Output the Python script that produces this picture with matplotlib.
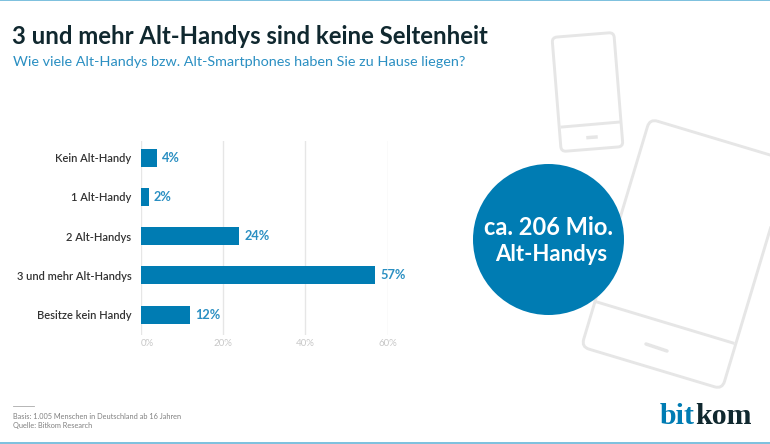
import matplotlib
matplotlib.use('Agg')
import matplotlib.pyplot as plt
from matplotlib.patches import Circle, FancyBboxPatch
from matplotlib.transforms import Affine2D

categories = ['Kein Alt-Handy', '1 Alt-Handy', '2 Alt-Handys', '3 und mehr Alt-Handys', 'Besitze kein Handy']
values = [4, 2, 24, 57, 12]
xticks = [0, 20, 40, 60]

BLUE = '#007cb3'
LABEL_BLUE = '#2a8fc2'
DARK = '#10282f'
GREY = '#e6e6e6'

plt.rcParams['font.family'] = ['Lato', 'DejaVu Sans']

W, H = 770, 444
fig = plt.figure(figsize=(W / 100, H / 100), dpi=100, facecolor='white')

# overlay in pixel coordinates for the decoration and the headings
bg = fig.add_axes([0, 0, 1, 1])
bg.set_xlim(0, W)
bg.set_ylim(H, 0)
bg.axis('off')


def phone(cx, cy, w, h, angle, pad):
    box = FancyBboxPatch((-w / 2 + pad, -h / 2 + pad), w - 2 * pad, h - 2 * pad,
                         boxstyle=f'round,pad={pad}', fc='none', ec=GREY, lw=2.1,
                         transform=Affine2D().rotate_deg(angle).translate(cx, cy) + bg.transData)
    bg.add_patch(box)


# phones in the background
phone(587.5, 92, 62, 114.5, -4.6, 5)
bg.plot([562, 620], [127, 122], color=GREY, lw=2.1)
bg.plot([588, 596], [137.6, 137], color=GREY, lw=2.5)
phone(686, 254, 147, 238, 16.7, 8)
bg.plot([597, 733], [302, 343], color=GREY, lw=2.1)
bg.plot([646, 667], [344, 351], color=GREY, lw=2.5, solid_capstyle='round')

bg.add_patch(Circle((548.5, 239.5), 75.5, fc=BLUE, ec='none', zorder=3))
bg.text(548, 227, 'ca. 206 Mio.', color='white', fontsize=17, fontweight='bold',
        ha='center', va='center', zorder=4)
bg.text(551.5, 254, 'Alt-Handys', color='white', fontsize=15.9, fontweight='bold',
        ha='center', va='center', zorder=4)

# top and bottom rules
bg.plot([0, W], [0.5, 0.5], color='#7cc0de', lw=1.4)
bg.plot([0, W], [443, 443], color='#7cc0de', lw=1.4)

bg.text(12, 36.5, '3 und mehr Alt-Handys sind keine Seltenheit', color=DARK, fontsize=17.2,
        fontweight='bold', ha='left', va='center')
bg.text(13, 62.5, 'Wie viele Alt-Handys bzw. Alt-Smartphones haben Sie zu Hause liegen?',
        color=LABEL_BLUE, fontsize=10.4, ha='left', va='center')

# footnote
bg.plot([13, 34], [406, 406], color='#aaaaaa', lw=0.6)
bg.text(13, 416, 'Basis: 1.005 Menschen in Deutschland ab 16 Jahren', color='#808080',
        fontsize=5.3, ha='left', va='center')
bg.text(13, 425, 'Quelle: Bitkom Research', color='#808080', fontsize=5.3, ha='left', va='center')

# logo
bg.text(660, 416, 'bit', color=BLUE, fontsize=21.5, fontweight='bold', family='Liberation Serif',
        ha='left', va='center')
bg.text(695, 416, 'kom', color=DARK, fontsize=21.5, fontweight='bold', family='Liberation Serif',
        ha='left', va='center')

# bar chart
left, right = 140.5, 387.5
top, bottom = 141, 335
ax = fig.add_axes([left / W, 1 - bottom / H, (right - left) / W, (bottom - top) / H])
ax.patch.set_alpha(0)
ax.barh(range(len(values)), values, height=0.46, color=BLUE, zorder=3)
ax.set_xlim(0, 60)
ax.set_ylim(4.52, -0.426)
ax.set_yticks(range(len(categories)))
ax.set_yticklabels(categories, fontsize=8.05, color='#333333', fontweight='semibold')
ax.set_xticks(xticks)
ax.set_xticklabels([f'{t}%' for t in xticks], fontsize=7, color='#c8c8c8')
ax.get_xticklabels()[0].set_ha('left')
ax.tick_params(axis='both', length=0)
ax.tick_params(axis='y', pad=6.5)
ax.tick_params(axis='x', pad=3)
ax.grid(axis='x', color=GREY, lw=1)
ax.set_axisbelow(True)
for s in ax.spines.values():
    s.set_visible(False)

for i, v in enumerate(values):
    ax.annotate(f'{v}%', (v, i), xytext=(3.6, 0), textcoords='offset points', color=LABEL_BLUE,
                fontsize=9.2, fontweight='bold', ha='left', va='center', zorder=4)

fig.savefig('out.png', dpi=100)
